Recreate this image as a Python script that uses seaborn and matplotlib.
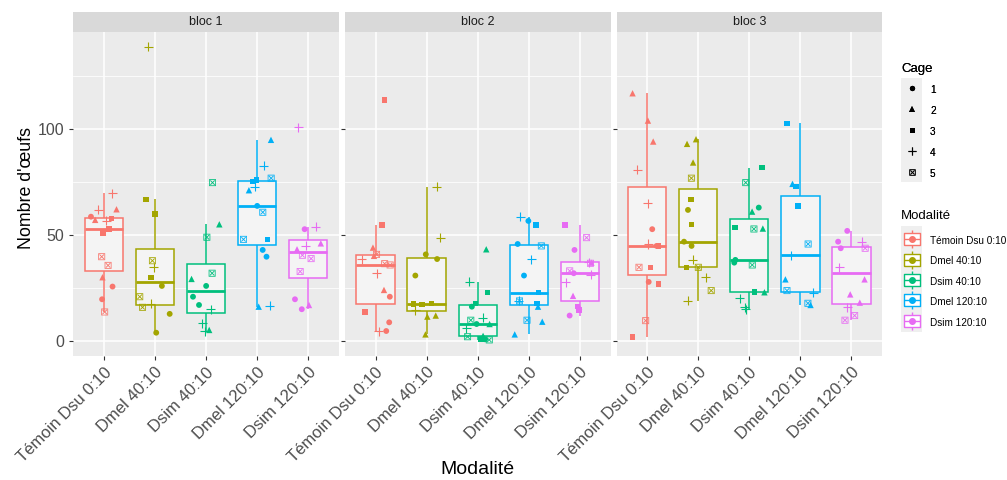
import matplotlib
matplotlib.use("Agg")
import matplotlib.pyplot as plt
import numpy as np
import pandas as pd
import seaborn as sns
from matplotlib.lines import Line2D
from matplotlib.patches import Rectangle
from matplotlib.legend_handler import HandlerTuple

MODALITES = ["Témoin Dsu 0:10", "Dmel 40:10", "Dsim 40:10", "Dmel 120:10", "Dsim 120:10"]
COLORS = ["#F8766D", "#A3A500", "#00BF7D", "#00B0F6", "#E76BF3"]
BLOCS = ["bloc 1", "bloc 2", "bloc 3"]
CAGES = [1, 2, 3, 4, 5]

# egg counts per cage
B1_TEMOIN = {1: [58.7, 25.7, 19.7], 2: [62.2, 57.2, 30.1], 3: [57.8, 53.0, 51.0],
             4: [69.8, 61.9, 56.7], 5: [39.8, 35.7, 13.7]}
B1_DMEL40 = {1: [26.0, 12.8, 3.9], 2: [], 3: [66.9, 60.0, 29.9],
             4: [139.0, 34.8, 17.5], 5: [37.9, 20.9, 15.9]}
B1_DSIM40 = {1: [26.0, 20.9, 17.0], 2: [55.1, 29.3, 5.2], 3: [],
             4: [15.0, 8.3, 4.7], 5: [74.8, 49.0, 32.0]}
B1_DMEL120 = {1: [63.8, 43.0, 39.8], 2: [95.0, 71.2, 16.2], 3: [76.0, 75.4, 48.0],
              4: [82.8, 72.9, 16.7], 5: [76.9, 60.8, 48.0]}
B1_DSIM120 = {1: [52.8, 19.7, 15.0], 2: [46.1, 43.3, 17.0], 3: [],
              4: [101.0, 54.0, 44.9], 5: [40.5, 38.9, 32.8]}

B2_TEMOIN = {1: [20.9, 8.8, 4.7], 2: [44.1, 40.2, 24.1], 3: [113.9, 54.8, 13.7],
             4: [38.7, 32.0, 4.7], 5: [40.9, 36.5, 35.9]}
B2_DMEL40 = {1: [40.9, 38.7, 30.9], 2: [12.0, 11.5, 3.1], 3: [17.8, 17.5, 17.3],
             4: [72.9, 48.8, 14.6], 5: []}
B2_DSIM40 = {1: [16.2, 8.0, 0.8], 2: [43.3, 8.0, 2.4], 3: [22.8, 17.8, 0.8],
             4: [27.9, 11.0, 6.0], 5: [9.8, 2.0, 0.5]}
B2_DMEL120 = {1: [56.7, 45.8, 30.9], 2: [16.2, 9.1, 3.1], 3: [54.8, 22.8, 17.8],
              4: [58.7, 38.7, 18.9], 5: [44.9, 18.9, 9.8]}
B2_DSIM120 = {1: [43.0, 32.0, 12.0], 2: [37.0, 21.3, 16.2], 3: [54.8, 16.2, 14.6],
              4: [37.2, 31.2, 27.7], 5: [48.8, 36.7, 33.1]}

B3_TEMOIN = {1: [52.8, 44.9, 27.9], 2: [117.0, 104.1, 94.2], 3: [44.9, 34.8, 26.8, 2.0],
             4: [80.8, 65.0, 45.8], 5: [34.8, 9.6]}
B3_DMEL40 = {1: [61.9, 46.9, 44.9], 2: [95.3, 93.1, 84.3], 3: [66.9, 55.0, 34.8],
             4: [38.3, 30.1, 18.9], 5: [76.9, 34.8, 23.8]}
B3_DSIM40 = {1: [63.0, 38.3, 37.0], 2: [61.1, 53.1, 23.0], 3: [81.9, 53.7, 23.0],
             4: [20.2, 15.9, 15.0], 5: [74.8, 52.9, 35.9]}
B3_DMEL120 = {1: [], 2: [74.2, 29.1, 17.0], 3: [102.8, 72.9, 63.8],
              4: [40.6, 22.8], 5: [45.8, 23.8, 17.8]}
B3_DSIM120 = {1: [52.0, 46.9, 43.8], 2: [29.1, 22.0, 18.1], 3: [],
              4: [46.9, 34.8, 15.9], 5: [43.8, 12.0, 9.8]}

GROUPS = {
    "bloc 1": [B1_TEMOIN, B1_DMEL40, B1_DSIM40, B1_DMEL120, B1_DSIM120],
    "bloc 2": [B2_TEMOIN, B2_DMEL40, B2_DSIM40, B2_DMEL120, B2_DSIM120],
    "bloc 3": [B3_TEMOIN, B3_DMEL40, B3_DSIM40, B3_DMEL120, B3_DSIM120],
}

rows = []
for bloc, groups in GROUPS.items():
    for mod, per_cage in zip(MODALITES, groups):
        for cage, vals in per_cage.items():
            for v in vals:
                rows.append((bloc, mod, cage, v))
df = pd.DataFrame(rows, columns=["bloc", "Modalité", "Cage", "oeufs"])

MARKERS = {1: "o", 2: "^", 3: "s", 4: "+", 5: r"$\boxtimes$"}
MSIZE = {1: 4.2, 2: 4.6, 3: 4.0, 4: 6.5, 5: 5.0}
MLW = {1: 0, 2: 0, 3: 0, 4: 0.8, 5: 0}
palette = dict(zip(MODALITES, COLORS))

plt.rcParams["font.family"] = ["Liberation Sans", "DejaVu Sans"]
np.random.seed(7)

W, H = 1007, 480
fig, axes = plt.subplots(1, 3, figsize=(W / 100, H / 100), dpi=100, sharey=True)
fig.subplots_adjust(left=0.0728, right=0.876, bottom=0.259, top=0.9327, wspace=0.0226)

for ax, bloc in zip(axes, BLOCS):
    ax.set_facecolor("#EBEBEB")
    sub = df[df["bloc"] == bloc]
    for mod, col in zip(MODALITES, COLORS):
        sns.boxplot(data=sub[sub["Modalité"] == mod], x="Modalité", y="oeufs",
                    order=MODALITES, color="#F4F4F4", saturation=1, linecolor=col,
                    linewidth=1.1, width=0.75, showcaps=False, showfliers=False,
                    medianprops=dict(color=col, linewidth=2.0), ax=ax, zorder=2)
    for cage in CAGES:
        pts = sub[sub["Cage"] == cage]
        if pts.empty:
            continue
        sns.stripplot(data=pts, x="Modalité", y="oeufs", hue="Modalité",
                      order=MODALITES, hue_order=MODALITES, palette=palette,
                      marker=MARKERS[cage], size=MSIZE[cage], linewidth=MLW[cage],
                      jitter=0.3, legend=False, ax=ax, zorder=3)

    ax.set_xlim(-0.6, 4.6)
    ax.set_ylim(-6.95, 145.8)
    ax.set_yticks([0, 50, 100])
    ax.set_yticks([25, 75, 125], minor=True)
    ax.grid(which="major", color="white", linewidth=1.1)
    ax.grid(which="minor", axis="y", color="white", linewidth=0.55)
    ax.set_axisbelow(True)
    for s in ax.spines.values():
        s.set_visible(False)
    ax.tick_params(axis="both", which="major", length=3, color="#333333",
                   labelcolor="#4D4D4D", width=0.8)
    ax.tick_params(axis="y", labelsize=11.5)
    ax.tick_params(axis="x", labelsize=12)
    ax.tick_params(axis="y", which="minor", length=0)
    ax.set_xticks(range(len(MODALITES)))
    ax.set_xticklabels(MODALITES, rotation=45, ha="right", rotation_mode="anchor")
    ax.set_xlabel("")
    ax.set_ylabel("")
    ax.add_patch(Rectangle((0, 1), 1, 20.3 / 323.4, transform=ax.transAxes,
                           clip_on=False, facecolor="#D9D9D9", edgecolor="none"))
    ax.text(0.5, 1 + 10.15 / 323.4, bloc, transform=ax.transAxes, ha="center",
            va="center", fontsize=9, color="#1A1A1A")

fig.text(477.5 / W, 1 - 470 / H, "Modalité", ha="center", va="center", fontsize=14)
fig.text(27 / W, 1 - 188 / H, "Nombre d'œufs", ha="center", va="center",
         rotation=90, fontsize=12.8)

# legend key backgrounds (ggplot grey95)
for y0, y1 in [(78, 182), (226, 332)]:
    fig.add_artist(Rectangle((901 / W, 1 - y1 / H), 21 / W, (y1 - y0) / H,
                             transform=fig.transFigure, facecolor="#EFEFEF",
                             edgecolor="none", zorder=0))

leg_kw = dict(loc="upper left", frameon=False, fontsize=7.2, title_fontsize=9.5,
              handlelength=2.2, handleheight=1.5, handletextpad=0.7, numpoints=1,
              labelspacing=0.87, alignment="left", borderpad=0, borderaxespad=0)

cage_handles = [Line2D([], [], ls="none", marker=MARKERS[c], color="black",
                       markersize=MSIZE[c] * 0.9, markeredgewidth=MLW[c] if c == 4 else 0)
                for c in CAGES]
leg1 = fig.legend(cage_handles, [str(c) for c in CAGES], title="Cage",
                  bbox_to_anchor=(901 / W, 1 - 63 / H), **leg_kw)

box_verts = [(-1, -0.75), (1, -0.75), (1, 0.75), (-1, 0.75), (-1, -0.75)]
mod_handles = []
for col in COLORS:
    mod_handles.append((
        Line2D([], [], ls="none", marker="|", markersize=13, color=col, markeredgewidth=1),
        Line2D([], [], ls="none", marker=box_verts, markersize=12, markerfacecolor="white",
               markeredgecolor=col, markeredgewidth=1),
        Line2D([], [], ls="none", marker="_", markersize=12, color=col, markeredgewidth=1),
        Line2D([], [], ls="none", marker="o", markersize=4, color=col),
    ))
mod_kw = dict(leg_kw, labelspacing=0.82)
leg2 = fig.legend(mod_handles, MODALITES, title="Modalité",
                  bbox_to_anchor=(901 / W, 1 - 210 / H),
                  handler_map={tuple: HandlerTuple(ndivide=1, pad=0)}, **mod_kw)
leg2._legend_box.sep = 9
fig.add_artist(leg1)

fig.savefig("out.png", dpi=100)
